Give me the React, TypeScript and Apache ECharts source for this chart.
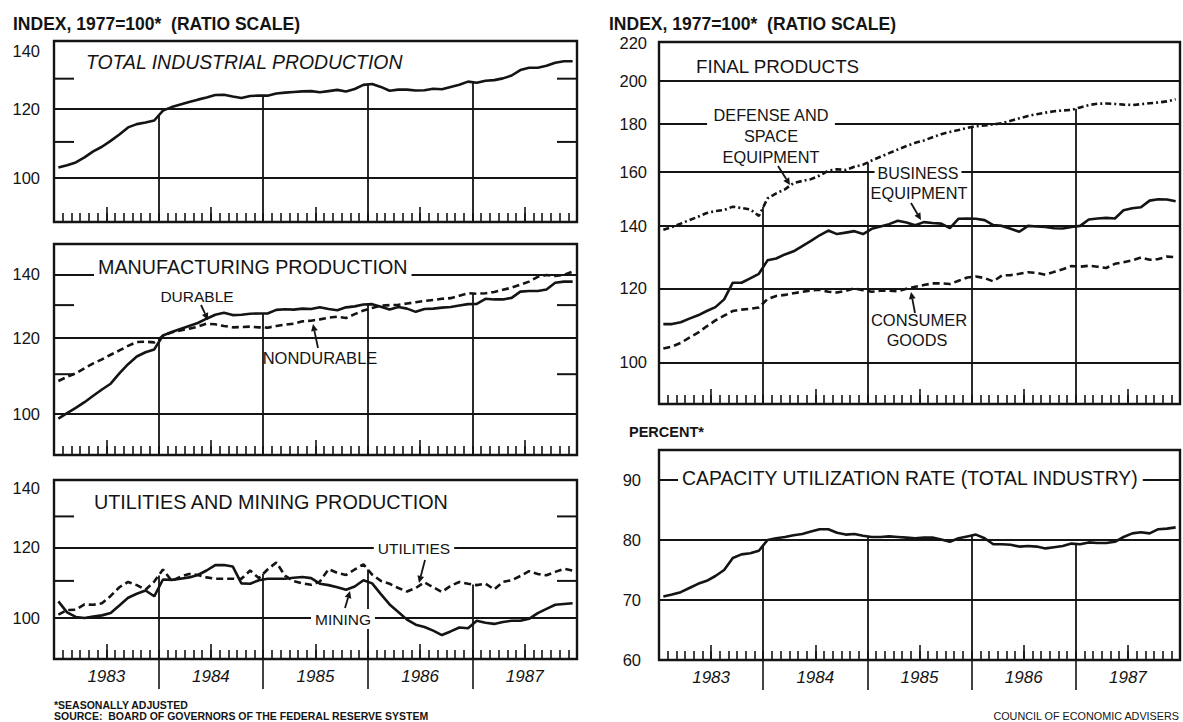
import React, { useEffect, useRef } from "react";
import * as echarts from "echarts";

// ---------- axis values ----------
const YEARS = ["1983", "1984", "1985", "1986", "1987"];
const MONTHS = 60;
const MID_YEAR_TICKS = [6, 18, 30, 42, 54];
const YEAR_BOUNDS = [12, 24, 36, 48];
const INDEX_LABELS = [100, 120, 140];
const INDEX_MINOR = [110, 130];
const FINAL_LABELS = [100, 120, 140, 160, 180, 200, 220];
const FINAL_GRID = [100, 120, 140, 160, 180, 200];
const PCT_LABELS = [60, 70, 80, 90];
const PCT_GRID = [70, 80, 90];

// ---------- monthly series, Jan 1983 - Dec 1987 ----------
const totalIP = [
  102.8, 103.4, 104.2, 105.6, 107.3, 108.6, 110.3, 112.2, 114.3, 115.3, 115.8, 116.4,
  119.5, 120.6, 121.4, 122.2, 123.0, 123.7, 124.5, 124.6, 124.0, 123.5, 124.2, 124.3,
  124.3, 125.0, 125.3, 125.5, 125.7, 125.8, 125.4, 125.8, 126.2, 125.7, 126.5, 127.9,
  128.2, 127.2, 125.9, 126.3, 126.3, 126.0, 126.1, 126.6, 126.4, 127.2, 127.9, 129.0,
  128.6, 129.3, 129.5, 130.1, 131.1, 133.0, 133.8, 133.8, 134.5, 135.6, 136.1, 136.1,
];
const durable = [
  98.8, 100.1, 101.4, 102.8, 104.4, 106.0, 107.5, 110.2, 112.7, 114.8, 116.0, 116.8,
  120.8, 121.8, 122.7, 123.6, 124.5, 125.8, 127.0, 127.6, 126.9, 127.0, 127.3, 127.4,
  127.4, 128.5, 128.7, 128.6, 128.9, 128.8, 129.3, 128.8, 128.4, 129.3, 129.6, 130.2,
  130.3, 129.5, 128.6, 129.4, 128.9, 127.9, 128.8, 128.9, 129.2, 129.4, 129.9, 130.3,
  130.4, 132.0, 131.8, 131.8, 132.3, 134.3, 134.5, 134.5, 135.0, 137.2, 137.6, 137.6,
];
const nondurable = [
  108.2, 109.3, 110.2, 111.6, 112.9, 114.0, 115.3, 116.5, 117.8, 118.9, 119.0, 118.8,
  120.7, 121.7, 122.3, 122.8, 123.4, 124.3, 124.1, 123.6, 123.2, 123.3, 123.4, 123.2,
  123.1, 123.6, 124.0, 124.3, 125.0, 125.2, 125.6, 126.1, 126.4, 126.0, 127.2, 128.3,
  129.1, 129.8, 130.0, 130.1, 130.5, 130.9, 131.3, 131.6, 132.0, 132.2, 133.0, 133.8,
  133.6, 133.8, 134.2, 134.9, 135.6, 136.6, 137.6, 139.2, 139.8, 139.5, 139.8, 141.0,
];
const mining = [
  104.3, 101.4, 100.2, 99.9, 100.3, 100.6, 101.2, 103.2, 105.3, 106.4, 107.3, 105.7,
  110.4, 110.3, 110.6, 111.0, 111.7, 113.0, 114.6, 114.6, 114.2, 109.3, 109.2, 110.2,
  110.6, 110.6, 110.6, 110.9, 111.1, 110.8, 109.2, 108.8, 108.2, 107.5, 108.4, 110.2,
  109.3, 106.3, 103.5, 101.5, 99.5, 98.2, 97.6, 96.7, 95.6, 96.5, 97.5, 97.3,
  99.2, 98.7, 98.4, 98.9, 99.2, 99.2, 99.7, 101.2, 102.3, 103.4, 103.6, 103.8,
];
const utilities = [
  100.8, 102.0, 102.1, 103.5, 103.4, 103.8, 105.8, 108.2, 109.7, 108.8, 107.5, 109.8,
  113.3, 110.0, 111.2, 112.0, 111.7, 111.0, 110.6, 110.6, 110.6, 110.6, 113.0, 110.8,
  113.3, 115.4, 111.5, 109.9, 109.3, 108.9, 109.8, 113.4, 112.3, 111.7, 113.3, 114.8,
  111.8, 110.0, 109.2, 108.0, 107.0, 108.0, 109.6, 108.2, 106.9, 108.6, 109.7, 109.2,
  108.8, 109.2, 107.6, 109.7, 110.2, 111.4, 112.8, 112.0, 111.6, 112.6, 113.5, 113.0,
];
const defense = [
  138.7, 139.6, 140.8, 142.0, 143.2, 144.5, 145.2, 145.6, 146.8, 146.3, 145.8, 143.5,
  149.8, 151.7, 153.2, 155.6, 156.4, 157.1, 158.5, 160.4, 161.0, 160.7, 162.0, 162.8,
  164.5, 166.0, 167.5, 169.0, 170.5, 171.8, 172.8, 174.2, 175.5, 176.5, 177.3, 178.3,
  179.0, 179.3, 179.8, 180.3, 181.4, 182.5, 183.6, 184.4, 185.1, 185.7, 186.1, 186.3,
  187.5, 188.6, 189.2, 189.3, 189.1, 188.8, 188.6, 189.0, 189.4, 189.8, 190.3, 191.3,
];
const business = [
  109.9, 109.9, 110.4, 111.4, 112.3, 113.5, 114.6, 116.8, 121.7, 121.7, 123.0, 124.4,
  128.6, 129.2, 130.5, 131.5, 133.2, 134.9, 136.8, 138.4, 137.2, 137.7, 138.2, 137.2,
  139.0, 139.8, 140.6, 141.8, 141.2, 140.2, 141.3, 141.0, 140.8, 139.2, 142.5, 142.6,
  142.5, 142.0, 140.3, 140.0, 139.0, 138.0, 140.0, 139.8, 139.6, 139.2, 139.1, 139.6,
  140.0, 142.2, 142.6, 142.8, 142.6, 145.5, 146.2, 146.6, 149.0, 149.5, 149.4, 148.8,
];
const consumer = [
  103.5, 104.0, 104.9, 106.3, 107.6, 109.3, 110.9, 112.2, 113.5, 113.9, 114.1, 114.5,
  116.9, 117.8, 118.1, 118.6, 119.0, 119.4, 119.6, 119.0, 118.8, 119.3, 120.0, 119.5,
  119.0, 119.3, 119.3, 119.2, 119.9, 120.5, 121.0, 121.5, 121.5, 121.3, 122.3, 123.3,
  123.6, 123.1, 122.1, 123.9, 124.0, 124.4, 124.9, 124.7, 124.1, 125.0, 125.8, 126.8,
  126.6, 126.9, 126.6, 126.2, 127.5, 128.0, 128.6, 129.5, 128.8, 129.0, 129.8, 129.6,
];
const capacity = [
  70.6, 70.9, 71.3, 72.0, 72.7, 73.2, 74.0, 75.0, 77.0, 77.6, 77.8, 78.2,
  80.0, 80.3, 80.5, 80.8, 81.0, 81.4, 81.8, 81.8, 81.2, 80.9, 81.0, 80.7,
  80.5, 80.5, 80.6, 80.5, 80.4, 80.3, 80.4, 80.4, 80.1, 79.7, 80.3, 80.6,
  80.9, 80.3, 79.3, 79.3, 79.2, 78.9, 79.0, 78.9, 78.6, 78.8, 79.0, 79.4,
  79.3, 79.6, 79.5, 79.5, 79.7, 80.5, 81.1, 81.3, 81.1, 81.8, 81.9, 82.1,
];

// ---------- styling ----------
const INK = "#141414";
const FONT = "'Liberation Sans', Arial, Helvetica, sans-serif";
const DASH = [7, 4];
const DASH_DOT = [6, 3, 2, 3];
const CURVE_W = 2.6;
const RULE_W = 1.8;
const SIDE_TICK_PX = 20;

type SeriesSpec = { data: number[]; dash?: number[] };
type PanelSpec = {
  box: { left: number; top: number; width: number; height: number };
  yType: "log" | "value";
  yMin: number;
  yMax: number;
  labels: number[];
  gridVals: number[];
  minor: number[];
  series: SeriesSpec[];
  years: boolean;
  labelMargin: number;
};

const PANELS: PanelSpec[] = [
  {
    box: { left: 54, top: 41, width: 523, height: 181 },
    yType: "log", yMin: 89.03, yMax: 143.6,
    labels: INDEX_LABELS, gridVals: [100, 120], minor: INDEX_MINOR,
    series: [{ data: totalIP }], years: false, labelMargin: 14,
  },
  {
    box: { left: 54, top: 244, width: 523, height: 211 },
    yType: "log", yMin: 90.48, yMax: 150.7,
    labels: INDEX_LABELS, gridVals: [100, 120, 140], minor: INDEX_MINOR,
    series: [{ data: durable }, { data: nondurable, dash: DASH }], years: false, labelMargin: 14,
  },
  {
    box: { left: 54, top: 480, width: 523, height: 179 },
    yType: "log", yMin: 89.85, yMax: 142.86,
    labels: INDEX_LABELS, gridVals: [100, 120], minor: INDEX_MINOR,
    series: [{ data: mining }, { data: utilities, dash: DASH }], years: true, labelMargin: 14,
  },
  {
    box: { left: 659, top: 42, width: 521, height: 362 },
    yType: "log", yMin: 90.25, yMax: 220.3,
    labels: FINAL_LABELS, gridVals: FINAL_GRID, minor: [],
    series: [{ data: defense, dash: DASH_DOT }, { data: business }, { data: consumer, dash: DASH }],
    years: false, labelMargin: 12,
  },
  {
    box: { left: 659, top: 450, width: 521, height: 210 },
    yType: "value", yMin: 60, yMax: 95,
    labels: PCT_LABELS, gridVals: PCT_GRID, minor: [],
    series: [{ data: capacity }], years: true, labelMargin: 18,
  },
];

function text(
  t: string, x: number, y: number,
  o: { size?: number; bold?: boolean; italic?: boolean; align?: string; bg?: boolean; pad?: number[] } = {}
) {
  const align = o.align || "center";
  const style: any = {
    text: t,
    font: `${o.italic ? "italic " : ""}${o.bold ? "bold " : ""}${o.size || 16}px ${FONT}`,
    fill: INK,
    align, textAlign: align,
    verticalAlign: "middle", textVerticalAlign: "middle",
  };
  if (o.bg) {
    style.backgroundColor = "#ffffff";
    style.padding = o.pad || [1, 4, 1, 4];
  }
  return { type: "text", x, y, z: 100, silent: true, style };
}

function arrow(x1: number, y1: number, x2: number, y2: number) {
  const a = Math.atan2(y2 - y1, x2 - x1);
  const L = 7, W = 3.4;
  const bx = x2 - L * Math.cos(a), by = y2 - L * Math.sin(a);
  const px = -Math.sin(a) * W, py = Math.cos(a) * W;
  return [
    { type: "line", z: 100, silent: true, shape: { x1, y1, x2: bx, y2: by }, style: { stroke: INK, lineWidth: 1.8 } },
    { type: "polygon", z: 100, silent: true, shape: { points: [[x2, y2], [bx + px, by + py], [bx - px, by - py]] }, style: { fill: INK } },
  ];
}

const ANNOTATIONS: any[] = [
  text("INDEX, 1977=100*  (RATIO SCALE)", 13, 24, { bold: true, size: 17.5, align: "left" }),
  text("INDEX, 1977=100*  (RATIO SCALE)", 609, 24, { bold: true, size: 17.5, align: "left" }),
  text("PERCENT*", 629, 432, { bold: true, size: 14.5, align: "left" }),
  text("TOTAL INDUSTRIAL PRODUCTION", 86, 62, { italic: true, size: 19.4, align: "left" }),
  text("MANUFACTURING PRODUCTION", 94, 267, { size: 19.7, align: "left", bg: true, pad: [2, 4, 4, 4] }),
  text("DURABLE", 197, 296, { size: 15.5 }),
  text("NONDURABLE", 320, 358, { size: 16.5 }),
  text("UTILITIES AND MINING PRODUCTION", 94, 502, { size: 19.8, align: "left" }),
  text("UTILITIES", 414, 548, { size: 15.5, bg: true, pad: [2, 4, 2, 4] }),
  text("MINING", 343, 619, { size: 15.5, bg: true, pad: [2, 4, 2, 4] }),
  text("FINAL PRODUCTS", 696, 66, { size: 18.8, align: "left" }),
  text("DEFENSE AND", 771, 115, { size: 16.3, bg: true, pad: [2, 6, 2, 6] }),
  text("SPACE", 771, 136, { size: 16.3, bg: true, pad: [2, 4, 2, 4] }),
  text("EQUIPMENT", 771, 157, { size: 16.3 }),
  text("BUSINESS", 918, 173, { size: 16, bg: true, pad: [2, 3, 2, 3] }),
  text("EQUIPMENT", 919, 193, { size: 16.3 }),
  text("CONSUMER", 919, 320, { size: 16.5 }),
  text("GOODS", 917, 340, { size: 16.3 }),
  text("CAPACITY UTILIZATION RATE (TOTAL INDUSTRY)", 678, 478, { size: 19.4, align: "left", bg: true, pad: [2, 4, 2, 4] }),
  text("*SEASONALLY ADJUSTED", 54, 705, { bold: true, size: 10.5, align: "left" }),
  text("SOURCE:  BOARD OF GOVERNORS OF THE FEDERAL RESERVE SYSTEM", 54, 716, { bold: true, size: 10.5, align: "left" }),
  text("COUNCIL OF ECONOMIC ADVISERS", 1179, 716, { size: 10.8, align: "right" }),
  ...arrow(201, 305, 208, 320),
  ...arrow(318, 348, 313, 324),
  ...arrow(425, 560, 419, 583),
  ...arrow(345, 608, 350, 591),
  ...arrow(778, 166, 790, 185),
  ...arrow(911, 203, 921, 220),
  ...arrow(915, 313, 911, 292),
];

// custom-series renderer: short rules at both sides of the panel, at the tick value
function renderSideTicks(params: any, api: any) {
  const cs = params.coordSys;
  const pt = api.coord([api.value(0), api.value(1)]);
  const y = pt[1];
  const style = { stroke: INK, lineWidth: 2 };
  return {
    type: "group",
    children: [
      { type: "line", shape: { x1: cs.x, y1: y, x2: cs.x + SIDE_TICK_PX, y2: y }, style },
      { type: "line", shape: { x1: cs.x + cs.width - SIDE_TICK_PX, y1: y, x2: cs.x + cs.width, y2: y }, style },
    ],
  };
}

function buildOption() {
  const grid: any[] = [];
  const xAxis: any[] = [];
  const yAxis: any[] = [];
  const series: any[] = [];
  const tickLine = { color: INK, width: 1.6 };

  PANELS.forEach((p, k) => {
    grid.push({
      ...p.box, show: true, borderColor: INK, borderWidth: 2.4,
      backgroundColor: "transparent", containLabel: false, outerBoundsMode: "none",
    });
    const xMain = xAxis.length;
    xAxis.push({
      gridIndex: k, type: "value", position: "bottom", min: 0, max: MONTHS, interval: 1,
      axisLine: { show: false, onZero: false },
      axisTick: { show: true, inside: true, length: 9, lineStyle: tickLine },
      axisLabel: { show: false }, splitLine: { show: false },
    });
    xAxis.push({
      gridIndex: k, type: "value", position: "bottom", min: 0, max: MONTHS,
      axisLine: { show: false, onZero: false },
      axisTick: { show: true, inside: true, length: 15, customValues: MID_YEAR_TICKS, lineStyle: tickLine },
      axisLabel: p.years
        ? {
            show: true, customValues: MID_YEAR_TICKS,
            formatter: (v: number) => YEARS[Math.round((v - 6) / 12)] || "",
            fontFamily: FONT, fontStyle: "italic", fontSize: 17, color: INK, margin: 9,
          }
        : { show: false },
      splitLine: { show: false },
    });
    if (p.years) {
      xAxis.push({
        gridIndex: k, type: "value", position: "bottom", min: 0, max: MONTHS,
        axisLine: { show: false, onZero: false },
        axisTick: { show: true, inside: false, length: 30, customValues: YEAR_BOUNDS, lineStyle: tickLine },
        axisLabel: { show: false }, splitLine: { show: false },
      });
    }
    const yMain = yAxis.length;
    yAxis.push({
      gridIndex: k, type: p.yType, position: "left", min: p.yMin, max: p.yMax,
      axisLine: { show: false, onZero: false },
      axisTick: { show: false, customValues: p.gridVals },
      axisLabel: {
        show: true, customValues: p.labels,
        formatter: (v: number) => String(Math.round(v)),
        fontFamily: FONT, fontSize: 16.5, color: INK, margin: p.labelMargin,
      },
      splitLine: { show: true, lineStyle: { color: INK, width: RULE_W } },
    });
    const dropTops = YEAR_BOUNDS.map((b) =>
      Math.max(...p.series.map((s) => (s.data[b - 1] + s.data[b]) / 2))
    );
    p.series.forEach((s, j) => {
      series.push({
        type: "line", xAxisIndex: xMain, yAxisIndex: yMain,
        data: s.data.map((v, i) => [i + 0.5, v]),
        symbol: "none", silent: true, z: 3,
        lineStyle: { color: INK, width: CURVE_W, type: s.dash ? s.dash : "solid" },
        markLine: j === 0
          ? {
              silent: true, symbol: ["none", "none"], label: { show: false },
              lineStyle: { color: INK, width: RULE_W, type: "solid" },
              data: YEAR_BOUNDS.map((b, i) => [{ coord: [b, p.yMin] }, { coord: [b, dropTops[i]] }]),
            }
          : undefined,
      });
    });
    if (p.minor.length) {
      series.push({
        type: "custom", xAxisIndex: xMain, yAxisIndex: yMain,
        data: p.minor.map((m) => [MONTHS / 2, m]),
        encode: { x: 0, y: 1 },
        renderItem: renderSideTicks,
        silent: true, z: 4,
      });
    }
  });

  return {
    animation: false,
    backgroundColor: "#ffffff",
    textStyle: { fontFamily: FONT },
    grid, xAxis, yAxis, series,
    graphic: { elements: ANNOTATIONS },
  };
}

export default function App() {
  const ref = useRef<HTMLDivElement>(null);
  useEffect(() => {
    if (!ref.current) return;
    const chart = echarts.init(ref.current, null, { renderer: "svg" });
    chart.setOption(buildOption() as any);
    return () => chart.dispose();
  }, []);
  return (
    <div
      ref={ref}
      style={{ position: "absolute", left: 0, top: 0, width: 1183, height: 722, background: "#fff" }}
    />
  );
}
